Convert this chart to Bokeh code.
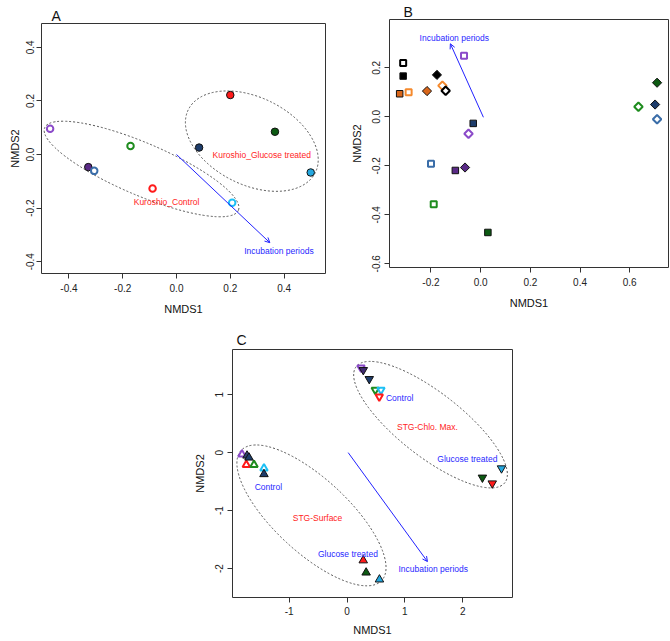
import numpy as np
from bokeh.plotting import figure
from bokeh.models import (FixedTicker, NumeralTickFormatter, Arrow, OpenHead,
                          Spacer, Range1d)
from bokeh.layouts import column, row
from bokeh.embed import file_html
from bokeh.resources import INLINE
from bokeh.core.properties import value

FONT = "Liberation Sans"
RED_T = "#FF2424"
BLUE_T = "#2828FF"

PURPLE = "#8B4AC9"
PURPLE_DK = "#5A2A86"
STEEL = "#3A6DA8"
GREEN = "#1E8C1E"
RED = "#FF1A1A"
CYAN = "#1EC0F5"
NAVY = "#1E3D6B"
DKGREEN = "#0C5A12"
LTBLUE = "#25A8E0"
ORANGE_F = "#D9661A"
ORANGE_O = "#F58A2E"
BLACK = "#000000"

# ---------------- Panel A : Kuroshio ----------------
a_open_x = [-0.470, -0.306, -0.171, -0.089, 0.207]
a_open_y = [0.096, -0.061, 0.032, -0.127, -0.180]
a_open_c = [PURPLE, STEEL, GREEN, RED, CYAN]
a_fill_x = [-0.328, 0.084, 0.200, 0.366, 0.499]
a_fill_y = [-0.047, 0.026, 0.222, 0.085, -0.067]
a_fill_c = [PURPLE_DK, NAVY, RED, DKGREEN, LTBLUE]
a_ell_x = [-0.130, 0.280]
a_ell_y = [-0.054, 0.050]
a_ell_w = [0.783, 0.527]
a_ell_h = [0.195, 0.326]
a_ell_deg = [-23.1, -26.3]
a_arrow = (0.0, 0.0, 0.347, -0.329)
a_text_x = [-0.037, 0.317, 0.381]
a_text_y = [-0.176, 0.000, -0.359]
a_text = ["Kuroshio_Control", "Kuroshio_Glucose treated", "Incubation periods"]
a_text_c = [RED_T, RED_T, BLUE_T]
a_xticks = [-0.4, -0.2, 0.0, 0.2, 0.4]
a_yticks = [-0.4, -0.2, 0.0, 0.2, 0.4]
a_xrange = (-0.502, 0.554)
a_yrange = (-0.444, 0.489)

# ---------------- Panel B ----------------
b_osq_x = [-0.312, -0.290, -0.067, -0.200, -0.189]
b_osq_y = [0.220, 0.100, 0.249, -0.192, -0.357]
b_osq_c = [BLACK, ORANGE_O, PURPLE, STEEL, GREEN]
b_fsq_x = [-0.312, -0.326, -0.030, -0.102, 0.029]
b_fsq_y = [0.166, 0.094, -0.027, -0.219, -0.472]
b_fsq_c = [BLACK, ORANGE_F, NAVY, PURPLE_DK, DKGREEN]
b_odi_x = [-0.154, -0.141, -0.049, 0.635, 0.710]
b_odi_y = [0.127, 0.106, -0.069, 0.041, -0.010]
b_odi_c = [ORANGE_O, BLACK, PURPLE, GREEN, STEEL]
b_fdi_x = [-0.216, -0.176, -0.063, 0.710, 0.702]
b_fdi_y = [0.105, 0.171, -0.207, 0.139, 0.050]
b_fdi_c = [ORANGE_F, BLACK, PURPLE_DK, DKGREEN, NAVY]
b_arrow = (0.011, -0.002, -0.122, 0.298)
b_text_x = [-0.106]
b_text_y = [0.322]
b_text = ["Incubation periods"]
b_text_c = [BLUE_T]
b_xticks = [-0.2, 0.0, 0.2, 0.4, 0.6]
b_yticks = [-0.6, -0.4, -0.2, 0.0, 0.2]
b_xrange = (-0.367, 0.756)
b_yrange = (-0.615, 0.397)

# ---------------- Panel C : STG ----------------
c_oup_x = [-1.816, -1.741, -1.608, -1.436]
c_oup_y = [-0.028, -0.212, -0.212, -0.269]
c_oup_c = [PURPLE, RED, GREEN, CYAN]
c_fup_x = [-1.729, -1.695, -1.436, 0.280, 0.330, 0.560]
c_fup_y = [-0.052, -0.086, -0.372, -1.860, -2.070, -2.190]
c_fup_c = ["#2E3F70", NAVY, NAVY, RED, DKGREEN, LTBLUE]
c_odn_x = [0.241, 0.488, 0.586, 0.557]
c_odn_y = [1.466, 1.081, 1.081, 0.966]
c_odn_c = [PURPLE, GREEN, CYAN, RED]
c_fdn_x = [0.281, 0.384, 2.340, 2.510, 2.670]
c_fdn_y = [1.426, 1.271, -0.430, -0.530, -0.270]
c_fdn_c = ["#3F2A70", NAVY, DKGREEN, RED, LTBLUE]
c_ell_x = [1.443, -0.615]
c_ell_y = [0.483, -1.083]
c_ell_w = [3.26, 3.31]
c_ell_h = [1.10, 1.27]
c_ell_deg = [-38.0, -42.8]
c_arrow = (0.02, 0.0, 1.39, -1.88)
c_text_x = [0.909, 1.39, 2.08, -1.36, -0.51, 0.015, 1.49]
c_text_y = [0.948, 0.45, -0.11, -0.59, -1.12, -1.75, -2.00]
c_text = ["Control", "STG-Chlo. Max.", "Glucose treated", "Control",
          "STG-Surface", "Glucose treated", "Incubation periods"]
c_text_c = [BLUE_T, RED_T, BLUE_T, BLUE_T, RED_T, BLUE_T, BLUE_T]
c_xticks = [-1, 0, 1, 2]
c_yticks = [-2, -1, 0, 1]
c_xrange = (-1.98, 2.86)
c_yrange = (-2.50, 1.78)


def make_fig(width, height, xr, yr, xticks, yticks, fmt, borders, title,
             t_off, t_std, xstd, ystd):
    bl, br, bt, bb = borders
    p = figure(width=width, height=height, x_range=Range1d(*xr),
               y_range=Range1d(*yr), output_backend="svg",
               toolbar_location=None, min_border_left=bl,
               min_border_right=br, min_border_top=bt, min_border_bottom=bb)
    p.background_fill_color = "white"
    p.border_fill_color = "white"
    p.outline_line_color = "#333333"
    p.outline_line_width = 1
    p.xgrid.visible = False
    p.ygrid.visible = False
    p.title.text = title
    p.title.text_font = FONT
    p.title.text_font_size = "14px"
    p.title.text_font_style = "normal"
    p.title.text_color = "#111111"
    p.title.align = "left"
    p.title.offset = t_off
    p.title.standoff = t_std
    for ax, ticks, lab, std in ((p.xaxis[0], xticks, "NMDS1", xstd),
                                (p.yaxis[0], yticks, "NMDS2", ystd)):
        ax.ticker = FixedTicker(ticks=ticks)
        ax.formatter = NumeralTickFormatter(format=fmt)
        ax.axis_label = lab
        ax.axis_label_text_font = FONT
        ax.axis_label_text_font_size = "11px"
        ax.axis_label_text_font_style = "normal"
        ax.axis_label_text_color = "#111111"
        ax.major_label_text_font = FONT
        ax.major_label_text_font_size = "10px"
        ax.major_label_text_color = "#222222"
        ax.axis_line_color = None
        ax.major_tick_line_color = "#333333"
        ax.major_tick_out = 5
        ax.major_tick_in = 0
        ax.minor_tick_line_color = None
        ax.major_label_standoff = std[0]
        ax.axis_label_standoff = std[1]
    p.yaxis[0].major_label_orientation = "vertical"
    return p


def ellipses(p, x, y, w, h, deg):
    p.ellipse(x=x, y=y, width=w, height=h, angle=np.radians(deg),
              fill_color=None, line_color="#555555", line_width=1,
              line_dash="2 2")


def arrow(p, a):
    p.add_layout(Arrow(end=OpenHead(size=5, line_color="#2222FF", line_width=1),
                       x_start=a[0], y_start=a[1], x_end=a[2], y_end=a[3],
                       line_color="#2222FF", line_width=1))


def texts(p, x, y, t, c):
    p.text(x=x, y=y, text=t, text_color=c, text_font=value(FONT),
           text_font_size=value("8.5px"), text_align="center",
           text_baseline="middle")


def open_pts(p, x, y, c, marker, size, angle=0.0):
    p.scatter(x=x, y=y, marker=marker, size=size, angle=angle,
              fill_color=None, line_color=c, line_width=2)


def fill_pts(p, x, y, c, marker, size, angle=0.0):
    p.scatter(x=x, y=y, marker=marker, size=size, angle=angle,
              fill_color=c, line_color="#111111", line_width=1)


# ---- A  (page x 0..335, frame 41..325 / 23..273)
pA = make_fig(335, 318, a_xrange, a_yrange, a_xticks, a_yticks, "0.0",
              (41, 10, 23, 45), "A", 10, 0, (5, 8), (2, 3))
ellipses(pA, a_ell_x, a_ell_y, a_ell_w, a_ell_h, a_ell_deg)
arrow(pA, a_arrow)
fill_pts(pA, a_fill_x, a_fill_y, a_fill_c, "circle", 7.5)
open_pts(pA, a_open_x, a_open_y, a_open_c, "circle", 6.5)
texts(pA, a_text_x, a_text_y, a_text, a_text_c)

# ---- B  (page x 335..669, frame 389..668 / 19..267)
pB = make_fig(334, 318, b_xrange, b_yrange, b_xticks, b_yticks, "0.0",
              (54, 1, 19, 51), "B", 14, 0, (5, 8), (4, 7))
arrow(pB, b_arrow)
fill_pts(pB, b_fsq_x, b_fsq_y, b_fsq_c, "square", 6.5)
open_pts(pB, b_osq_x, b_osq_y, b_osq_c, "square", 6)
fill_pts(pB, b_fdi_x, b_fdi_y, b_fdi_c, "square", 6.5, np.pi / 4)
open_pts(pB, b_odi_x, b_odi_y, b_odi_c, "square", 6, np.pi / 4)
texts(pB, b_text_x, b_text_y, b_text, b_text_c)

# ---- C  (page x 187..522, frame 232..512 / 349..597)
pC = make_fig(335, 321, c_xrange, c_yrange, c_xticks, c_yticks, "0",
              (45, 10, 31, 42), "C", 4, 3, (4, 6), (4, 7))
ellipses(pC, c_ell_x, c_ell_y, c_ell_w, c_ell_h, c_ell_deg)
arrow(pC, c_arrow)
open_pts(pC, c_oup_x, c_oup_y, c_oup_c, "triangle", 7.5)
fill_pts(pC, c_fup_x, c_fup_y, c_fup_c, "triangle", 8.5)
open_pts(pC, c_odn_x, c_odn_y, c_odn_c, "inverted_triangle", 7.5)
fill_pts(pC, c_fdn_x, c_fdn_y, c_fdn_c, "inverted_triangle", 8.5)
texts(pC, c_text_x, c_text_y, c_text, c_text_c)

layout = column(row(column(pA), column(pB)),
                row(Spacer(width=187, height=321), pC))

with open("out.html", "w") as f:
    f.write(file_html(layout, INLINE))
